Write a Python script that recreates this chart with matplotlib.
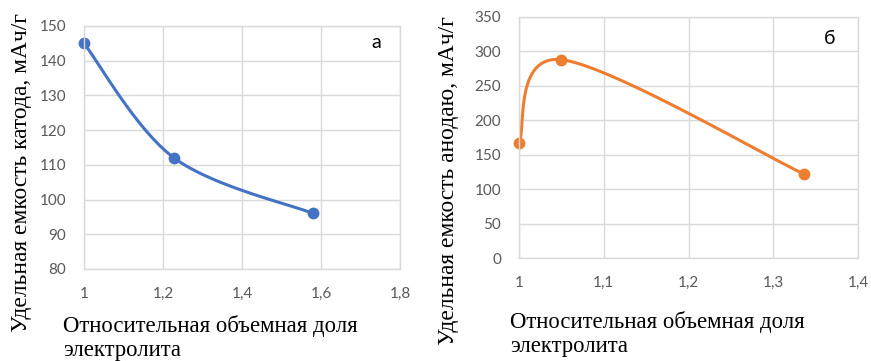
import matplotlib
matplotlib.use('Agg')
import matplotlib.pyplot as plt
import numpy as np

# cathode capacity vs relative electrolyte volume fraction
cath_x = [1.0, 1.228, 1.58]
cath_y = [145, 112, 96]

# anode capacity vs relative electrolyte volume fraction
anod_x = [1.0, 1.05, 1.336]
anod_y = [167, 288, 122]

cath_xticks = [1.0, 1.2, 1.4, 1.6, 1.8]
cath_xlabels = ['1', '1,2', '1,4', '1,6', '1,8']
cath_yticks = [80, 90, 100, 110, 120, 130, 140, 150]

anod_xticks = [1.0, 1.1, 1.2, 1.3, 1.4]
anod_xlabels = ['1', '1,1', '1,2', '1,3', '1,4']
anod_yticks = [0, 50, 100, 150, 200, 250, 300, 350]

W, H = 871, 361
GRID = '#d9d9d9'
TICK = '#595959'
SERIF = 'Liberation Serif'
SANS = 'Lato'


def smooth(xs, ys, xlim, ylim, wpx, hpx, n=60):
    # bezier smoothing done in pixel space, like spreadsheet smoothed lines
    u = (np.array(xs) - xlim[0]) / (xlim[1] - xlim[0]) * wpx
    v = (np.array(ys) - ylim[0]) / (ylim[1] - ylim[0]) * hpx
    P = np.column_stack([u, v])
    ext = np.vstack([P[0], P, P[-1]])
    out = []
    t = np.linspace(0, 1, n)[:, None]
    for i in range(len(P) - 1):
        p0, p3 = P[i], P[i + 1]
        c1 = p0 + (ext[i + 2] - ext[i]) / 6
        c2 = p3 - (ext[i + 3] - ext[i + 1]) / 6
        seg = ((1 - t) ** 3) * p0 + 3 * ((1 - t) ** 2) * t * c1 \
            + 3 * (1 - t) * t ** 2 * c2 + t ** 3 * p3
        out.append(seg)
    S = np.vstack(out)
    sx = S[:, 0] / wpx * (xlim[1] - xlim[0]) + xlim[0]
    sy = S[:, 1] / hpx * (ylim[1] - ylim[0]) + ylim[0]
    return sx, sy


def panel(rect, xs, ys, xlim, ylim, xticks, xlabels, yticks, color, letter, letter_pos):
    l, t, r, b = rect
    ax = fig.add_axes([l / W, 1 - b / H, (r - l) / W, (b - t) / H])
    ax.set_xlim(*xlim)
    ax.set_ylim(*ylim)
    ax.set_xticks(xticks)
    ax.set_xticklabels(xlabels)
    ax.set_yticks(yticks)
    ax.grid(True, color=GRID, linewidth=1.0)
    ax.set_axisbelow(True)
    for s in ax.spines.values():
        s.set_color(GRID)
        s.set_linewidth(1.0)
    ax.tick_params(length=0, colors=TICK, labelsize=11, pad=13)
    for lab in ax.get_xticklabels() + ax.get_yticklabels():
        lab.set_fontfamily(SANS)
    sx, sy = smooth(xs, ys, xlim, ylim, r - l, b - t)
    ax.plot(sx, sy, color=color, linewidth=2.2, clip_on=False, solid_capstyle='round')
    ax.plot(xs, ys, 'o', color=color, markersize=7.5, clip_on=False)
    fig.text(letter_pos[0] / W, 1 - letter_pos[1] / H, letter, fontsize=14,
             family=SANS, ha='center', va='center', color='black')
    return ax


fig = plt.figure(figsize=(W / 100, H / 100), dpi=100)

panel((84, 26, 400, 269), cath_x, cath_y, (1.0, 1.8), (80, 150),
      cath_xticks, cath_xlabels, cath_yticks, '#4472C4', 'а', (376, 42))
panel((519, 17, 858, 258), anod_x, anod_y, (1.0, 1.4), (0, 350),
      anod_xticks, anod_xlabels, anod_yticks, '#ED7D31', 'б', (830, 38))

xlab = 'Относительная объемная доля\nэлектролита'
fig.text(63 / W, 1 - 315 / H, xlab, fontsize=16.4, family=SERIF, ha='left', va='top',
         linespacing=1.2)
fig.text(510 / W, 1 - 311 / H, xlab, fontsize=16.4, family=SERIF, ha='left', va='top',
         linespacing=1.2)

fig.text(22 / W, 1 - 173 / H, 'Удельная емкость катода, мАч/г', fontsize=16.9,
         family=SERIF, rotation=90, ha='center', va='center')
fig.text(448 / W, 1 - 181 / H, 'Удельная емкость анодаю, мАч/г', fontsize=16.9,
         family=SERIF, rotation=90, ha='center', va='center')

fig.savefig('out.png', dpi=100)
